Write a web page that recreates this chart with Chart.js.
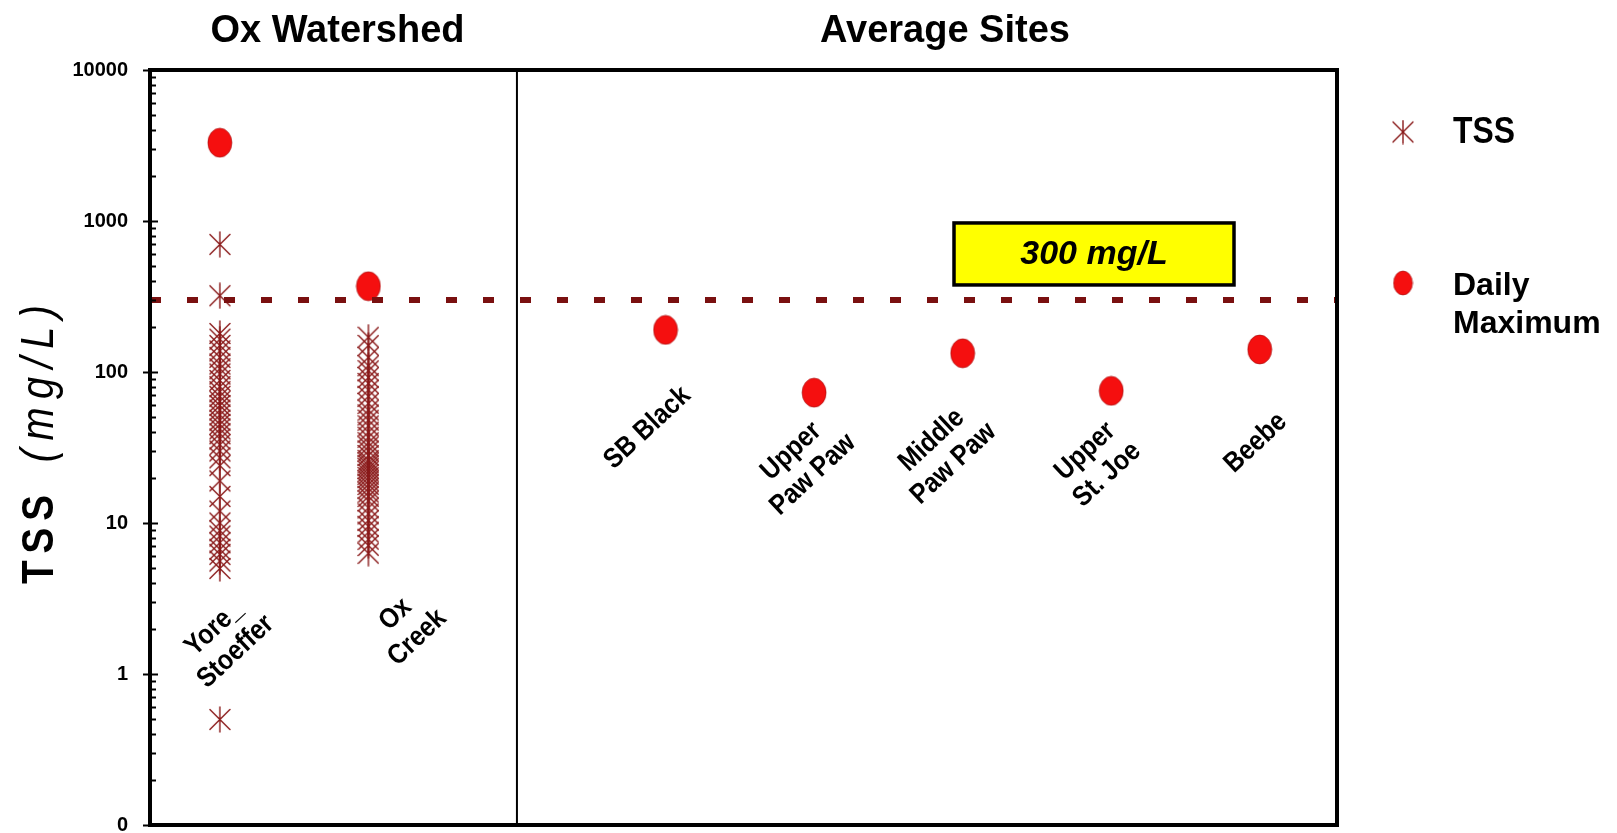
<!DOCTYPE html>
<html>
<head>
<meta charset="utf-8">
<script src="https://cdn.jsdelivr.net/npm/chart.js@4.4.1/dist/chart.umd.min.js"></script>
<style>
  html, body { margin: 0; padding: 0; background: #ffffff; }
  canvas { display: block; }
</style>
</head>
<body>
<canvas id="tss" width="1617" height="833"></canvas>
<script>
// ---- data -------------------------------------------------------------
const siteLabels = [
  ["Yore_", "Stoeffer"], ["Ox", "Creek"], ["SB Black"],
  ["Upper", "Paw Paw"], ["Middle", "Paw Paw"], ["Upper", "St. Joe"], ["Beebe"]
];
// category slot of each site (slot 2 is left empty for the group divider)
const siteSlots = [0, 1, 3, 4, 5, 6, 7];
const groupTitles = ["Ox Watershed", "Average Sites"];
const dividerSlot = 2;

const yoreStoefferTss = [700, 320, 180, 165, 150, 138, 125, 113, 105, 97, 88, 80, 74, 69, 64, 60,
  56, 52, 48, 45, 42, 39, 36, 33, 30, 27, 24, 19, 15, 12, 10, 8.9, 8.2, 7.4, 6.7, 6.2, 5.6, 5, 0.5];
const oxCreekTss = [170, 150, 125, 110, 102, 92, 84, 76, 69, 62, 56, 52, 48, 44, 40, 37, 34, 32, 30,
  28, 26, 25, 24, 23, 22, 21, 20, 19, 18, 17, 16, 15, 14, 12.6, 11.5, 10.4, 9.5, 8.7, 7.8, 7.1, 6.3];
const dailyMaximum = [3300, 370, 190, 73, 133, 75, 141];

const tssStandard = 300;
const standardLabel = "300 mg/L";
const yMajorTicks = [0.1, 1, 10, 100, 1000, 10000];
const yMajorLabels = ["0", "1", "10", "100", "1000", "10000"];
const legendLabels = [["TSS"], ["Daily", "Maximum"]];

// ---- look -------------------------------------------------------------
const X_MIN = -0.47, X_MAX = 7.52;
const STAR_COLOR = "#8a1a1a";
const DOT_COLOR = "#f50f0f";
const LINE_COLOR = "#7a1010";
const FONT = "'Liberation Sans', Arial, sans-serif";

function makeStar(w, h) {
  const c = document.createElement("canvas");
  c.width = w; c.height = h;
  const g = c.getContext("2d");
  g.strokeStyle = STAR_COLOR; g.lineWidth = 1.4; g.lineCap = "round";
  const cx = w / 2, cy = h / 2, r = (w - 2) / 2;
  g.beginPath();
  g.moveTo(cx, 1); g.lineTo(cx, h - 1);
  g.moveTo(cx - r, cy - r); g.lineTo(cx + r, cy + r);
  g.moveTo(cx + r, cy - r); g.lineTo(cx - r, cy + r);
  g.stroke();
  return c;
}
function makeDot(w, h) {
  const c = document.createElement("canvas");
  c.width = w; c.height = h;
  const g = c.getContext("2d");
  g.fillStyle = DOT_COLOR;
  g.strokeStyle = "rgba(150,0,0,0.55)"; g.lineWidth = 1;
  g.beginPath();
  g.ellipse(w / 2, h / 2, w / 2 - 1, h / 2 - 1, 0, 0, Math.PI * 2);
  g.fill(); g.stroke();
  return c;
}
const starImg = makeStar(22, 27);
const dotImg = makeDot(26, 31);
const legendStar = makeStar(22, 25);
const legendDot = makeDot(21, 26);

function drawText(ctx, text, x, y, o) {
  ctx.save();
  ctx.translate(x, y);
  if (o.angle) ctx.rotate(o.angle);
  ctx.scale(o.sx || 1, 1);
  ctx.font = o.font;
  ctx.fillStyle = o.color || "#000";
  ctx.textAlign = o.align || "center";
  ctx.textBaseline = o.baseline || "alphabetic";
  if (o.spacing) ctx.letterSpacing = o.spacing + "px";
  ctx.fillText(text, 0, 0);
  ctx.restore();
}

// label anchors for each site: [dx from the site's slot, centre y]
const labelLayout = [[5, 640], [38, 626], [-18, 428], [-12, 463], [-20, 452], [-15, 463], [-4, 443]];

const decorations = {
  id: "decorations",
  afterDatasetsDraw(chart) {
    const { ctx, chartArea: a, scales } = chart;
    const y = scales.y;
    ctx.save();
    ctx.strokeStyle = "#000";
    // y axis tick marks: majors cross the axis, minors point inward
    ctx.lineWidth = 2;
    y.ticks.forEach(t => {
      const py = Math.round(y.getPixelForValue(t.value)) + 0.5;
      const major = yMajorTicks.includes(t.value);
      ctx.beginPath();
      ctx.moveTo(major ? a.left - 7 : a.left, py);
      ctx.lineTo(a.left + (major ? 8 : 6), py);
      ctx.stroke();
    });
    // plot frame
    ctx.lineWidth = 4;
    ctx.strokeRect(a.left, a.top, a.right - a.left, a.bottom - a.top);
    ctx.restore();
  },
  afterDraw(chart) {
    const { ctx, chartArea: a, scales } = chart;
    const x = scales.x, y = scales.y;

    // group titles
    const divX = x.getPixelForValue(dividerSlot);
    drawText(ctx, groupTitles[0], (a.left + divX) / 2 + 4, 42,
      { font: `bold 38px ${FONT}` });
    drawText(ctx, groupTitles[1], (divX + a.right) / 2 + 18, 42,
      { font: `bold 38px ${FONT}` });

    // site labels, rotated
    const ang = -43 * Math.PI / 180;
    siteLabels.forEach((lines, i) => {
      const cx = x.getPixelForValue(siteSlots[i]) + labelLayout[i][0];
      const cy = labelLayout[i][1];
      const lh = 32;
      lines.forEach((ln, j) => {
        const off = (j - (lines.length - 1) / 2) * lh;
        const px = cx - Math.sin(ang) * off;
        const py = cy + Math.cos(ang) * off;
        drawText(ctx, ln, px, py, { font: `bold 28px ${FONT}`, sx: 0.88, angle: ang, baseline: "middle" });
      });
    });

    // standard label box
    const ly = y.getPixelForValue(tssStandard);
    const bx = 954, bw = 280, by = ly - 77, bh = 62;
    ctx.save();
    ctx.fillStyle = "#ffff00";
    ctx.fillRect(bx, by, bw, bh);
    ctx.lineWidth = 3.5; ctx.strokeStyle = "#000";
    ctx.strokeRect(bx, by, bw, bh);
    ctx.restore();
    drawText(ctx, standardLabel, bx + bw / 2, by + bh / 2 + 1,
      { font: `italic bold 34px ${FONT}`, baseline: "middle" });

    // y axis title
    ctx.save();
    ctx.translate(53, 584);
    ctx.rotate(-Math.PI / 2);
    ctx.scale(0.86, 1);
    ctx.fillStyle = "#000";
    ctx.textAlign = "left"; ctx.textBaseline = "alphabetic";
    ctx.letterSpacing = "8px";
    ctx.font = `bold 45px ${FONT}`;
    ctx.fillText("TSS", 0, 0);
    const w1 = ctx.measureText("TSS").width;
    ctx.letterSpacing = "10px";
    ctx.font = `italic 46px ${FONT}`;
    ctx.fillText("(mg/L)", w1 + 30, 0);
    ctx.restore();

    // legend
    const lx = 1403, tx = 1453;
    ctx.drawImage(legendStar, lx - legendStar.width / 2, 132 - legendStar.height / 2);
    drawText(ctx, legendLabels[0][0], tx, 143, { font: `bold 37px ${FONT}`, sx: 0.86, align: "left" });
    ctx.drawImage(legendDot, lx - legendDot.width / 2, 283 - legendDot.height / 2);
    legendLabels[1].forEach((t, j) =>
      drawText(ctx, t, tx, 295 + j * 38, { font: `bold 32px ${FONT}`, align: "left" }));
  }
};

// ---- datasets ---------------------------------------------------------
const tssPoints = [
  ...yoreStoefferTss.map(v => ({ x: siteSlots[0], y: v })),
  ...oxCreekTss.map(v => ({ x: siteSlots[1], y: v }))
];
const dailyPoints = dailyMaximum.map((v, i) => ({ x: siteSlots[i], y: v }));

new Chart(document.getElementById("tss"), {
  type: "scatter",
  data: {
    datasets: [
      {
        label: "300 mg/L",
        data: [{ x: X_MIN, y: tssStandard }, { x: X_MAX, y: tssStandard }],
        showLine: true, pointRadius: 0, borderColor: LINE_COLOR, borderWidth: 6,
        borderDash: [11, 26], borderCapStyle: "butt", order: 0
      },
      {
        label: "Daily Maximum", data: dailyPoints,
        pointStyle: dotImg, pointRadius: 12, order: 1
      },
      {
        label: "TSS", data: tssPoints,
        pointStyle: starImg, pointRadius: 11, order: 2
      },
      {
        label: "divider",
        data: [{ x: dividerSlot, y: yMajorTicks[0] }, { x: dividerSlot, y: yMajorTicks[yMajorTicks.length - 1] }],
        showLine: true, pointRadius: 0, borderColor: "#000", borderWidth: 2, order: 3
      }
    ]
  },
  options: {
    responsive: false,
    devicePixelRatio: 1,
    animation: false,
    events: [],
    layout: { autoPadding: false, padding: { top: 70, right: 280, bottom: 8, left: 0 } },
    plugins: { legend: { display: false }, tooltip: { enabled: false } },
    scales: {
      x: { type: "linear", min: X_MIN, max: X_MAX, display: false },
      y: {
        type: "logarithmic",
        min: yMajorTicks[0], max: yMajorTicks[yMajorTicks.length - 1],
        afterFit: s => {
          s.width = 150;
          s.paddingTop = 0;
          s.paddingBottom = 0;
        },
        afterBuildTicks: s => {
          const ticks = [];
          yMajorTicks.forEach((m, k) => {
            if (k === yMajorTicks.length - 1) { ticks.push({ value: m }); return; }
            for (let d = 1; d <= 9; d++) ticks.push({ value: +(m * d).toPrecision(6) });
          });
          s.ticks = ticks;
        },
        grid: { display: false, drawTicks: false },
        border: { display: false },
        ticks: {
          autoSkip: false, padding: 22, color: "#000",
          font: { family: FONT, weight: "bold", size: 20 },
          callback: v => {
            const k = yMajorTicks.indexOf(v);
            return k >= 0 ? yMajorLabels[k] : "";
          }
        }
      }
    }
  },
  plugins: [decorations]
});
</script>
</body>
</html>
